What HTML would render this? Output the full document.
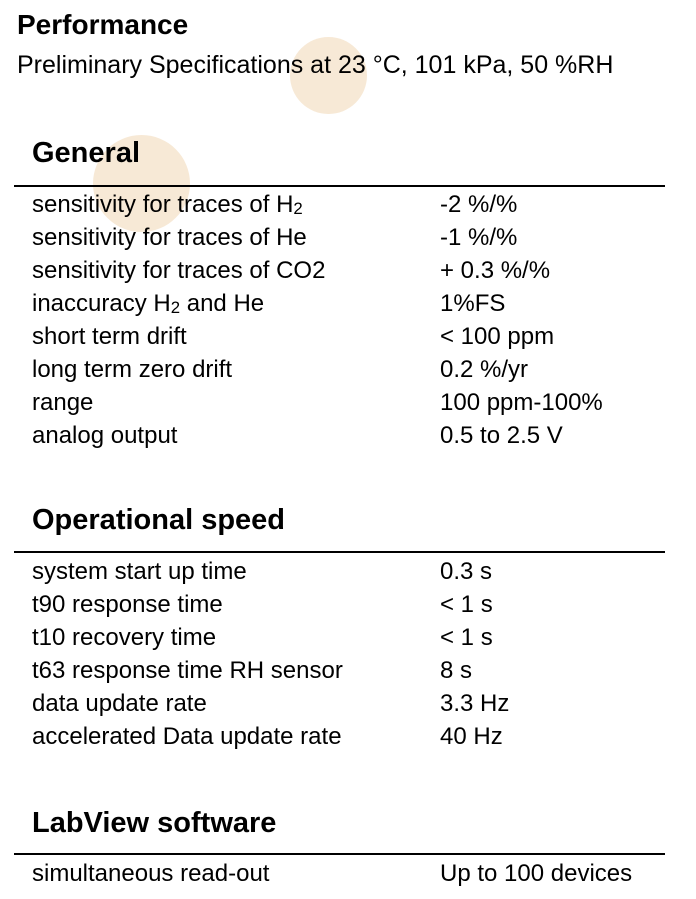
<!DOCTYPE html>
<html><head><meta charset="utf-8">
<style>
body{margin:0;width:696px;height:899px;background:#fff;position:relative;overflow:hidden;font-family:"Liberation Sans",sans-serif;color:#000}
.a{position:absolute;white-space:nowrap}
.circ{position:absolute;border-radius:50%;background:#f3dfc4;opacity:.7}
.h1{font-weight:bold;font-size:28px}
.sub{font-size:25px}
.h2{font-weight:bold;font-size:29px}
.row{font-size:24px}
.rule{position:absolute;left:14px;width:651px;height:1.5px;background:#000}
sub{font-size:70%;vertical-align:-2px}
</style></head><body>
<div class="circ" style="left:290px;top:37px;width:77px;height:77px"></div>
<div class="circ" style="left:93px;top:135px;width:97px;height:97px"></div>

<div class="a h1" style="left:17px;top:9px">Performance</div>
<div class="a sub" style="left:17px;top:51px">Preliminary Specifications at 23 °C, 101 kPa, 50 %RH</div>

<div class="a h2" style="left:32px;top:137px">General</div>
<div class="rule" style="top:185px"></div>
<div>
<div class="a row" style="left:32px;top:191px">sensitivity for traces of H<sub>2</sub></div><div class="a row" style="left:440px;top:191px">-2 %/%</div>
<div class="a row" style="left:32px;top:224px">sensitivity for traces of He</div><div class="a row" style="left:440px;top:224px">-1 %/%</div>
<div class="a row" style="left:32px;top:257px">sensitivity for traces of CO2</div><div class="a row" style="left:440px;top:257px">+ 0.3 %/%</div>
<div class="a row" style="left:32px;top:290px">inaccuracy H<sub>2</sub> and He</div><div class="a row" style="left:440px;top:290px">1%FS</div>
<div class="a row" style="left:32px;top:323px">short term drift</div><div class="a row" style="left:440px;top:323px">&lt; 100 ppm</div>
<div class="a row" style="left:32px;top:356px">long term zero drift</div><div class="a row" style="left:440px;top:356px">0.2 %/yr</div>
<div class="a row" style="left:32px;top:389px">range</div><div class="a row" style="left:440px;top:389px">100 ppm-100%</div>
<div class="a row" style="left:32px;top:422px">analog output</div><div class="a row" style="left:440px;top:422px">0.5 to 2.5 V</div>
</div>

<div class="a h2" style="left:32px;top:504px">Operational speed</div>
<div class="rule" style="top:551px"></div>
<div>
<div class="a row" style="left:32px;top:558px">system start up time</div><div class="a row" style="left:440px;top:558px">0.3 s</div>
<div class="a row" style="left:32px;top:591px">t90 response time</div><div class="a row" style="left:440px;top:591px">&lt; 1 s</div>
<div class="a row" style="left:32px;top:624px">t10 recovery time</div><div class="a row" style="left:440px;top:624px">&lt; 1 s</div>
<div class="a row" style="left:32px;top:657px">t63 response time RH sensor</div><div class="a row" style="left:440px;top:657px">8 s</div>
<div class="a row" style="left:32px;top:690px">data update rate</div><div class="a row" style="left:440px;top:690px">3.3 Hz</div>
<div class="a row" style="left:32px;top:723px">accelerated Data update rate</div><div class="a row" style="left:440px;top:723px">40 Hz</div>
</div>

<div class="a h2" style="left:32px;top:807px">LabView software</div>
<div class="rule" style="top:853px"></div>
<div>
<div class="a row" style="left:32px;top:860px">simultaneous read-out</div><div class="a row" style="left:440px;top:860px">Up to 100 devices</div>
</div>
</body></html>
